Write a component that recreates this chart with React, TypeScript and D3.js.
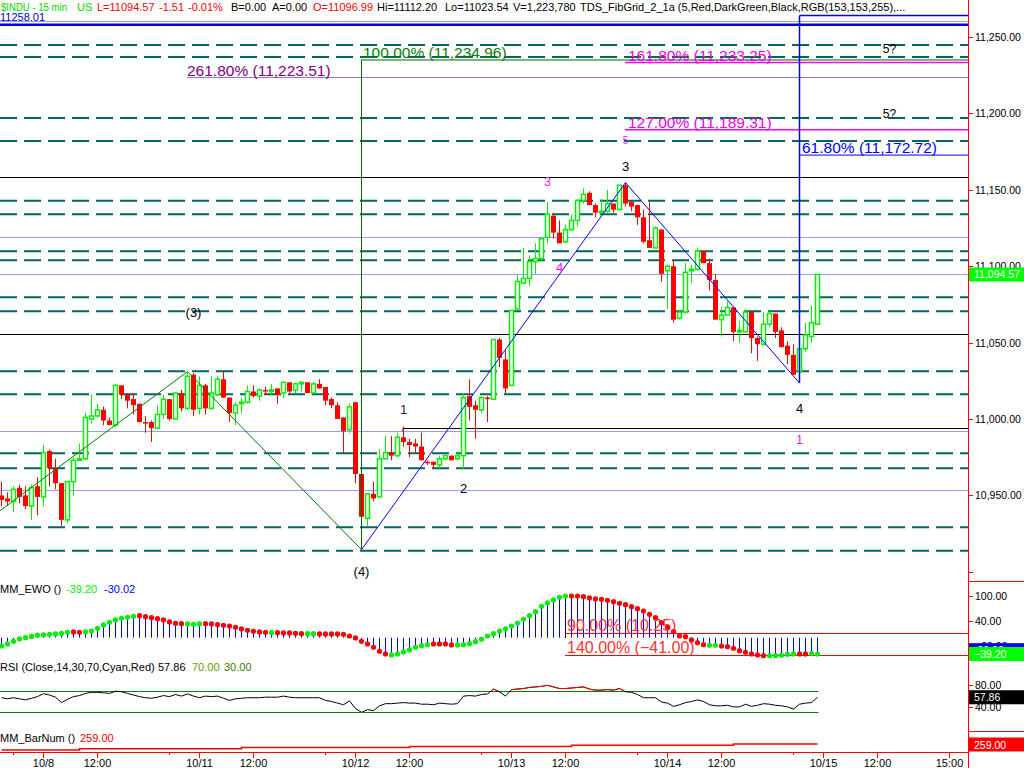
import React from 'react';
import * as d3 from 'd3';

// ---------- DATA ----------
const FIRST_BAR = -7; // bar index of first visible bar (10/8 09:45 = 0)

// [open, high, low, close] per 15-min bar
const ohlc: [number, number, number, number][] = [
  [10950, 10959, 10943, 10947], [10948, 10952, 10943, 10946], [10946, 10956, 10939, 10954],
  [10955, 10957, 10945, 10949], [10950, 10956, 10941, 10943], [10943, 10957, 10934, 10955],
  [10956, 10962, 10937, 10949],
  [10949, 10983, 10943, 10978], [10979, 10980, 10956, 10968], [10968, 10974, 10954, 10958],
  [10958, 10958, 10930, 10934], [10934, 10959, 10932, 10959], [10959, 10975, 10950, 10973],
  [10973, 10984, 10973, 10974], [10974, 11004, 10973, 11001], [11000, 11016, 10997, 11002],
  [11002, 11010, 11001, 11006], [11006, 11008, 10996, 10999], [10999, 11001, 10996, 10996],
  [10996, 11023, 10995, 11022], [11022, 11022, 11013, 11016], [11016, 11017, 11007, 11012],
  [11013, 11017, 11003, 11009], [11010, 11010, 10998, 10998], [10998, 11002, 10991, 10997],
  [10998, 10999, 10985, 10994], [10994, 11009, 10993, 11003], [11003, 11016, 11000, 11013],
  [11013, 11013, 10999, 11000], [11000, 11017, 11000, 11017], [11017, 11019, 11005, 11007],
  [11007, 11031, 11006, 11028], [11029, 11030, 11002, 11006],
  [11007, 11028, 11003, 11022], [11022, 11023, 11003, 11007], [11007, 11028, 11006, 11017],
  [11016, 11028, 11015, 11026], [11026, 11031, 11014, 11014], [11014, 11014, 10998, 11004],
  [11004, 11011, 10996, 11009], [11010, 11014, 11004, 11011], [11011, 11022, 11010, 11018],
  [11018, 11022, 11014, 11015], [11015, 11020, 11012, 11019], [11019, 11021, 11016, 11018],
  [11018, 11023, 11016, 11019], [11020, 11020, 11010, 11016], [11017, 11024, 11014, 11024],
  [11024, 11024, 11017, 11018], [11019, 11024, 11017, 11023], [11023, 11025, 11018, 11024],
  [11024, 11024, 11017, 11017], [11017, 11024, 11017, 11023], [11023, 11026, 11020, 11020],
  [11021, 11021, 11009, 11012], [11013, 11014, 11007, 11009], [11009, 11011, 11000, 11000],
  [11001, 11001, 10978, 10992], [10993, 11010, 10991, 11008],
  [11011, 11011, 10958, 10964], [10964, 10964, 10914.5, 10936], [10935, 10951, 10930, 10951],
  [10951, 10959, 10946, 10948], [10949, 10980, 10949, 10974], [10974, 10989, 10974, 10978],
  [10978, 10989, 10973, 10976], [10976, 10991, 10975, 10988], [10988, 10995, 10982, 10985],
  [10985, 10987, 10975, 10983], [10984, 10987, 10978, 10982], [10982, 10991, 10973, 10973],
  [10972, 10973, 10970, 10971], [10972, 10972, 10968, 10970], [10970, 10976, 10968, 10974],
  [10974, 10977, 10973, 10976], [10976, 10976, 10973, 10973], [10974, 10979, 10973, 10976],
  [10976, 11017, 10967, 11014], [11015, 11026, 10999, 11008], [11009, 11012, 10987, 11006],
  [11006, 11015, 11004, 11014], [11014, 11015, 10998, 11013], [11013, 11052, 11013, 11052],
  [11052, 11053, 11034, 11040], [11039, 11045, 11017, 11020],
  [11022, 11071, 11022, 11071], [11072, 11094, 11072, 11090], [11089, 11112, 11088, 11092],
  [11092, 11107, 11087, 11103], [11103, 11115, 11095, 11105], [11105, 11118, 11103, 11118],
  [11119, 11142, 11115, 11134], [11133, 11134, 11118, 11122], [11122, 11130, 11115, 11115],
  [11116, 11127, 11115, 11124], [11124, 11134, 11123, 11130], [11130, 11143, 11126, 11143],
  [11143, 11151, 11141, 11147], [11148, 11149, 11140, 11140], [11140, 11141, 11132, 11135],
  [11135, 11144, 11134, 11136], [11136, 11150, 11135, 11141], [11141, 11141, 11135, 11137],
  [11137, 11153, 11137, 11153], [11153, 11154.7, 11139, 11141], [11142, 11143, 11136, 11139],
  [11140, 11140, 11127, 11132], [11132, 11137, 11115, 11116], [11117, 11142, 11112, 11112],
  [11112, 11126, 11112, 11125], [11124, 11124, 11090, 11095],
  [11097, 11101, 11072, 11100], [11100, 11104, 11063, 11065], [11066, 11071, 11065, 11070],
  [11070, 11102, 11069, 11096], [11097, 11101, 11089, 11098], [11098, 11112.2, 11097, 11110],
  [11110, 11110, 11102, 11102], [11102, 11105, 11084, 11091], [11091, 11095, 11065, 11065],
  [11065, 11073, 11054, 11068], [11068, 11077, 11068, 11073], [11073, 11073, 11051, 11057],
  [11057, 11064, 11050, 11058], [11057, 11072, 11057, 11070], [11070, 11070, 11043, 11053],
  [11053, 11054, 11038, 11049], [11049, 11070, 11048, 11062], [11062, 11071, 11060, 11069],
  [11069, 11069, 11053, 11057], [11058, 11060, 11047, 11047], [11048, 11051, 11036, 11042],
  [11042, 11049, 11029, 11029], [11031, 11046, 11023.54, 11046], [11046, 11063, 11044, 11055],
  [11054, 11074, 11050, 11063], [11062, 11095, 11062, 11094.57],
];

const ewo: number[] = [
  -20, -15, -8.7, -3, 0, 3, 6,
  7, 8, 9, 10.5, 13, 13.7, 13, 13.7, 16, 22.5, 30.5, 37, 42.5, 46.5, 49, 51.3, 52.8, 50.4, 48, 45.6,
  42.5, 37.7, 34.5, 33.6, 32.9, 32,
  33, 33.6, 33, 31.3, 29.8, 28, 25, 21, 17.7, 15.4, 13.7, 13, 12, 12, 11.3, 11.3, 10.5, 9.6, 9.6,
  9.6, 9, 9, 9, 9, 8, 4,
  -0.7, -8.7, -15, -23, -32.6, -39, -41.5, -39, -34.3, -29.5, -23, -19.2, -16.8, -15, -15, -15,
  -17.5, -17.5, -16.8, -14.4, -9.6, -3.8, 4, 9.6, 16, 21,
  28, 35, 44, 52.8, 62.4, 75.4, 83.3, 90.5, 97, 100, 100, 100, 98.4, 95.3, 92.9, 92, 89.7, 86.4,
  82.5, 79.2, 74.4, 69.6, 64, 56, 48, 36,
  25, 14.4, 4, 2.4, -5.5, -12, -16.8, -18.2, -18.2, -20, -21.6, -25.4, -31.2, -35, -39, -41.5,
  -43.2, -43.2, -43.2, -42.2, -40, -39, -39, -39, -38, -39.2,
];

// EWO dot state runs: g = rising (green), r = falling (red)
const ewoRuns: [string, number][] = [
  ['g', 12], ['r', 2], ['g', 9], ['r', 8], ['g', 3], ['r', 11], ['g', 1], ['r', 5], ['g', 2],
  ['r', 12], ['g', 7], ['r', 4], ['g', 19], ['r', 23], ['g', 2], ['r', 8], ['g', 5], ['r', 2], ['g', 2],
];

const rsi: number[] = [
  57, 55, 57, 55, 53, 56, 59,
  64.5, 62, 58, 48, 54, 59, 61, 65, 67, 67, 66, 65, 69, 68, 65, 62, 59, 57, 56, 58, 61, 59, 63, 60,
  64, 60,
  57, 60, 59, 60, 56, 52, 55, 56, 57, 57, 57, 58, 58, 58, 60, 58, 57, 57, 57, 57, 57, 52, 50, 47,
  44, 51,
  37, 30, 35, 33, 42, 46, 46, 47, 48, 47, 47, 45, 45, 44, 47, 46, 45, 46, 60, 61, 60, 63, 64, 73,
  68, 60,
  72, 73, 74, 76, 77, 78, 80, 77, 74, 74, 75, 76, 77, 73, 71, 71, 72, 71, 74, 68, 67, 63, 57, 57,
  57, 49,
  47, 41, 44, 48, 50, 53, 50, 44, 42, 42, 43, 40, 40, 45, 41, 43, 46, 45, 43, 42, 40, 36, 45, 47,
  48, 57.86,
];

const barNumBreaks = [-7, 6, 33, 61, 88, 115];
const barNumValues = [254, 255, 256, 257, 258, 259];

const tickBars = [0, 9, 26, 35, 52, 61, 78, 87, 104, 113, 130, 139, 151];
const tickLabels = ['10/8', '12:00', '10/11', '12:00', '10/12', '12:00', '10/13', '12:00', '10/14', '12:00', '10/15', '12:00', '15:00'];
const minorTickBars = [-5, 21, 47, 73, 99, 125];

const priceTicks = [10950, 11000, 11050, 11100, 11150, 11200, 11250];

// Fib grid levels
const dashedLevels = [11244.8, 11236.9, 11197, 11182, 11142.9, 11134, 11109.8, 11103.9, 11079.7,
  11070.5, 11031.2, 11016.2, 10977.6, 10967.7, 10929.1, 10913.8];
const lightLevels = [11260.6, 11118.9, 11094.7, 10991.9, 10953.3];
const blackLevels = [11158.2, 11055.4];
const wave1High = { k: 60, p: 10994.3 };
const topLevel = 11258.01;

const fibNames = ['100.00%', '261.80%', '161.80%', '127.00%', '61.80%'];
const fibValues = [11234.96, 11223.51, 11233.25, 11189.31, 11172.72];
const fibStartBars = [53, 24, 97, 97, 126];

const ewoFibNames = ['90.00%', '140.00%'];
const ewoFibValues = [10.25, -41.0];
const ewoFibStart = 87;

const greenWave = [{ k: -10, p: 10932 }, { k: 24, p: 11031 }, { k: 53, p: 10914.5 }];
const blueWave = [{ k: 53, p: 10914.5 }, { k: 97, p: 11154.7 }, { k: 126, p: 11023.54 }];
const blueBoxTop = 11264.1;

const waveLabels = [
  { t: '(3)', k: 25, p: 11070, c: 'black', s: 13 },
  { t: '(4)', k: 53, p: 10900, c: 'black', s: 13 },
  { t: '1', k: 60, p: 11006.5, c: '#1c1c50', s: 13 },
  { t: '2', k: 70, p: 10954.8, c: 'black', s: 13 },
  { t: '3', k: 97, p: 11165.6, c: 'black', s: 13 },
  { t: '3', k: 84, p: 11155.1, c: '#e020e0', s: 12 },
  { t: '4', k: 86, p: 11099.5, c: '#e020e0', s: 13 },
  { t: '4', k: 126, p: 11007.2, c: 'black', s: 13 },
  { t: '1', k: 126, p: 10986.3, c: '#e020e0', s: 12 },
  { t: '5?', k: 141, p: 11242.2, c: 'black', s: 12 },
  { t: '5?', k: 141, p: 11199.6, c: 'black', s: 12 },
  { t: '5', k: 97, p: 11182.6, c: '#e020e0', s: 10 },
];

const header = [
  { t: '$INDU - 15 min', x: 1, c: '#00d800', w: 66 },
  { t: 'US', x: 77, c: '#00d800', w: 0 },
  { t: 'L=11094.57', x: 97, c: '#ff0000', w: 0 },
  { t: '-1.51', x: 159, c: '#ff0000', w: 0 },
  { t: '-0.01%', x: 188, c: '#ff0000', w: 0 },
  { t: 'B=0.00', x: 231, c: '#000', w: 0 },
  { t: 'A=0.00', x: 272, c: '#000', w: 0 },
  { t: 'O=11096.99', x: 313, c: '#ff0000', w: 0 },
  { t: 'Hi=11112.20', x: 377, c: '#000', w: 0 },
  { t: 'Lo=11023.54', x: 445, c: '#000', w: 0 },
  { t: 'V=1,223,780', x: 513, c: '#000', w: 0 },
  { t: 'TDS_FibGrid_2_1a (5,Red,DarkGreen,Black,RGB(153,153,255),...', x: 580, c: '#000', w: 0 },
];

// ---------- COMPONENT ----------
const FONT = 'Liberation Sans, Arial, sans-serif';
const GREEN = '#00ee00';
const RED = '#ff0000';
const TEAL = '#00665e';

export default function App() {
  const AX = 968;
  const x = d3.scaleLinear().domain([0, 130]).range([43, 823]);
  const y = d3.scaleLinear().domain([11000, 11250]).range([419, 37]);
  const yE = d3.scaleLinear().domain([40, 100]).range([621, 596]);
  const yR = d3.scaleLinear().domain([30, 70]).range([712.3, 690.7]);
  const yB = d3.scaleLinear().domain([254, 259]).range([750, 744]);
  const fmt = d3.format(',.2f');
  const cx = (k: number) => x(k) + 0.5;

  const bars = ohlc.map((d, i) => ({ k: FIRST_BAR + i, o: d[0], h: d[1], l: d[2], c: d[3] }));
  const trend: string[] = [];
  ewoRuns.forEach(([s, n]) => { for (let i = 0; i < n; i++) trend.push(s); });

  const waveLine = d3.line<{ k: number; p: number }>().x(d => cx(d.k)).y(d => y(d.p));
  const rsiLine = d3.line<number>().x((_, i) => cx(FIRST_BAR + i)).y(v => yR(v));
  const barPts = barNumBreaks.map((k, i) => ({ k, v: barNumValues[i] }));
  barPts.push({ k: FIRST_BAR + ohlc.length - 1, v: barNumValues[barNumValues.length - 1] });
  const barLine = d3.line<{ k: number; v: number }>().x(d => cx(d.k)).y(d => yB(d.v)).curve(d3.curveStepAfter);
  const lastBarX = cx(FIRST_BAR + ohlc.length - 1) + 1;

  const axisLabel = (v: string, yy: number, key: string) => (
    <g key={key}>
      <line x1={AX} x2={AX + 5} y1={Math.round(yy) + 0.5} y2={Math.round(yy) + 0.5} stroke={RED} />
      <text x={975} y={yy + 4} fontSize={10.5} fill="#000">{v}</text>
    </g>
  );
  const boxLabel = (v: string, yy: number, fill: string, key: string) => (
    <g key={key}>
      <rect x={AX + 1} y={yy - 7} width={1024 - AX - 1} height={14} fill={fill} />
      <text x={974} y={yy + 4} fontSize={10.5} fill="#fff">{v}</text>
    </g>
  );

  return (
    <svg width={1024} height={768} style={{ position: 'absolute', left: 0, top: 0, background: '#fff' }}
      fontFamily={FONT}>
      <defs>
        <clipPath id="pane"><rect x={0} y={0} width={AX} height={580} /></clipPath>
        <clipPath id="rsiHi"><rect x={0} y={0} width={AX} height={yR(70)} /></clipPath>
        <clipPath id="rsiLo"><rect x={0} y={yR(30)} width={AX} height={100} /></clipPath>
      </defs>
      <rect x={0} y={0} width={1024} height={768} fill="#fff" />

      {/* ---------- price pane ---------- */}
      <g clipPath="url(#pane)">
        {dashedLevels.map((p, i) => (
          <line key={'d' + i} x1={0} x2={AX} y1={y(p)} y2={y(p)} stroke={TEAL} strokeWidth={2} strokeDasharray="17 7" />
        ))}
        {lightLevels.map((p, i) => (
          <line key={'l' + i} x1={0} x2={AX} y1={Math.round(y(p)) + 0.5} y2={Math.round(y(p)) + 0.5} stroke="#9999ff" strokeWidth={1} />
        ))}
        {blackLevels.map((p, i) => (
          <line key={'b' + i} x1={0} x2={AX} y1={Math.round(y(p)) + 0.5} y2={Math.round(y(p)) + 0.5} stroke="#000" strokeWidth={1.2} />
        ))}
        <line x1={x(wave1High.k)} x2={AX} y1={Math.round(y(wave1High.p)) + 0.5} y2={Math.round(y(wave1High.p)) + 0.5} stroke="#000" strokeWidth={1.2} />
        <line x1={x(wave1High.k)} x2={x(wave1High.k)} y1={y(wave1High.p)} y2={y(wave1High.p) + 4} stroke="#000" />
        <line x1={0} x2={AX} y1={y(topLevel)} y2={y(topLevel)} stroke="#0000e6" strokeWidth={2.5} />

        {/* fib lines */}
        <line x1={x(fibStartBars[0])} x2={AX} y1={y(fibValues[0])} y2={y(fibValues[0])} stroke="#006400" strokeWidth={1} />
        <line x1={x(fibStartBars[1])} x2={AX} y1={y(fibValues[1])} y2={y(fibValues[1])} stroke="#9370db" strokeWidth={1} />
        <line x1={x(fibStartBars[2])} x2={AX} y1={y(fibValues[2])} y2={y(fibValues[2])} stroke="#ff00ff" strokeWidth={1.5} />
        <line x1={x(fibStartBars[3])} x2={AX} y1={y(fibValues[3])} y2={y(fibValues[3])} stroke="#ff00ff" strokeWidth={1.5} />
        <line x1={x(fibStartBars[4])} x2={AX} y1={y(fibValues[4])} y2={y(fibValues[4])} stroke="#0000ff" strokeWidth={1} />
        <line x1={cx(126)} x2={AX} y1={y(blueBoxTop)} y2={y(blueBoxTop)} stroke="#0000ff" strokeWidth={1.5} />

        {/* candles */}
        {bars.map(b => {
          const c = x(b.k);
          const up = b.c >= b.o;
          const col = up ? GREEN : RED;
          const top = y(Math.max(b.o, b.c));
          const h = Math.max(1.2, y(Math.min(b.o, b.c)) - top);
          return (
            <g key={'c' + b.k}>
              <line x1={c + 0.5} x2={c + 0.5} y1={y(b.h)} y2={y(b.l)} stroke={col} strokeWidth={1} />
              {up
                ? <rect x={c - 1.5} y={top} width={4} height={h} fill="#fff" stroke={col} strokeWidth={1.5} />
                : <rect x={c - 2} y={top} width={5} height={h} fill={col} />}
            </g>
          );
        })}

        {/* wave lines */}
        <path d={waveLine(greenWave) || ''} fill="none" stroke="#008000" strokeWidth={1} />
        <path d={waveLine(blueWave) || ''} fill="none" stroke="#0000ff" strokeWidth={1} />
        <line x1={cx(53)} x2={cx(53)} y1={y(fibValues[0])} y2={y(10914.5)} stroke="#006400" strokeWidth={1} />
        <line x1={cx(126)} x2={cx(126)} y1={y(blueBoxTop)} y2={y(11023.54)} stroke="#0000ff" strokeWidth={1.5} />

        {/* fib texts */}
        <text x={x(fibStartBars[0]) + 2} y={y(fibValues[0]) - 2} fontSize={15.5} fill="#0a7d0a">{`${fibNames[0]} (${fmt(fibValues[0])})`}</text>
        <text x={x(fibStartBars[1])} y={y(fibValues[1]) - 1} fontSize={15.5} fill="#800080">{`${fibNames[1]} (${fmt(fibValues[1])})`}</text>
        <text x={x(fibStartBars[2]) + 3} y={y(fibValues[2]) - 2} fontSize={15.5} fill="#e600e6">{`${fibNames[2]} (${fmt(fibValues[2])})`}</text>
        <text x={x(fibStartBars[3]) + 3} y={y(fibValues[3]) - 2} fontSize={15.5} fill="#e600e6">{`${fibNames[3]} (${fmt(fibValues[3])})`}</text>
        <text x={x(fibStartBars[4]) + 3} y={y(fibValues[4]) - 2} fontSize={15.5} fill="#0000ff">{`${fibNames[4]} (${fmt(fibValues[4])})`}</text>

        {waveLabels.map((l, i) => (
          <text key={'w' + i} x={cx(l.k)} y={y(l.p) + l.s * 0.36} fontSize={l.s} fill={l.c} textAnchor="middle">{l.t}</text>
        ))}
      </g>
      <text x={0} y={21} fontSize={11} fill="#0000cc">{fmt(topLevel).replace(',', '')}</text>

      {/* header */}
      {header.map((h, i) => (
        h.w > 0
          ? <text key={'h' + i} x={h.x} y={11} fontSize={11} fill={h.c} textLength={h.w} lengthAdjust="spacingAndGlyphs">{h.t}</text>
          : <text key={'h' + i} x={h.x} y={11} fontSize={11} fill={h.c}>{h.t}</text>
      ))}

      {/* ---------- EWO pane ---------- */}
      <text x={0} y={593} fontSize={11} fill="#000">MM_EWO ()</text>
      <text x={66} y={593} fontSize={11} fill={GREEN}>-39.20</text>
      <text x={104} y={593} fontSize={11} fill="#0000ff">-30.02</text>
      {ewo.map((v, i) => (
        <line key={'eh' + i} x1={cx(FIRST_BAR + i)} x2={cx(FIRST_BAR + i)} y1={yE(0)} y2={yE(v)} stroke="#0000ff" strokeWidth={1} />
      ))}
      <line x1={x(ewoFibStart) + 0.5} x2={x(ewoFibStart) + 0.5} y1={yE(100)} y2={yE(0)} stroke="#000" strokeDasharray="2 2" />
      {ewoFibValues.map((v, i) => (
        <g key={'ef' + i}>
          <line x1={x(ewoFibStart)} x2={AX} y1={Math.round(yE(v)) + 0.5} y2={Math.round(yE(v)) + 0.5} stroke={RED} strokeWidth={1} />
          <text x={x(ewoFibStart) + 2} y={yE(v) - 2} fontSize={16} fill="#ff3030">{`${ewoFibNames[i]} (${d3.format('.2f')(v)})`}</text>
        </g>
      ))}
      {ewo.map((v, i) => (
        <circle key={'ed' + i} cx={cx(FIRST_BAR + i)} cy={yE(v)} r={2.6} fill={trend[i] === 'g' ? GREEN : RED} />
      ))}

      {/* ---------- RSI pane ---------- */}
      <text x={0} y={671} fontSize={11} fill="#000">RSI (Close,14,30,70,Cyan,Red)</text>
      <text x={158} y={671} fontSize={11} fill="#000">57.86</text>
      <text x={192} y={671} fontSize={11} fill="#5f9e00">70.00</text>
      <text x={224} y={671} fontSize={11} fill="#3c7a00">30.00</text>
      <line x1={0} x2={lastBarX} y1={Math.round(yR(70)) + 0.5} y2={Math.round(yR(70)) + 0.5} stroke="#008000" />
      <line x1={0} x2={lastBarX} y1={Math.round(yR(30)) + 0.5} y2={Math.round(yR(30)) + 0.5} stroke="#008000" />
      <path d={rsiLine(rsi) || ''} fill="none" stroke="#000" strokeWidth={1} />
      <path d={rsiLine(rsi) || ''} fill="none" stroke={RED} strokeWidth={1} clipPath="url(#rsiHi)" />
      <path d={rsiLine(rsi) || ''} fill="none" stroke="#00ffff" strokeWidth={1} clipPath="url(#rsiLo)" />

      {/* ---------- BarNum pane ---------- */}
      <text x={0} y={742} fontSize={11} fill="#000">MM_BarNum ()</text>
      <text x={80} y={742} fontSize={11} fill={RED}>259.00</text>
      <path d={barLine(barPts) || ''} fill="none" stroke={RED} strokeWidth={1.5} />

      {/* ---------- time axis ---------- */}
      <line x1={0} x2={AX} y1={752.5} y2={752.5} stroke={RED} />
      {tickBars.map((k, i) => (
        <g key={'t' + i}>
          <line x1={cx(k)} x2={cx(k)} y1={752} y2={758} stroke={RED} />
          <text x={cx(k)} y={767} fontSize={11} textAnchor="middle" fill="#000">{tickLabels[i]}</text>
        </g>
      ))}
      {minorTickBars.map(k => (
        <line key={'m' + k} x1={cx(k)} x2={cx(k)} y1={752} y2={755} stroke={RED} />
      ))}

      {/* ---------- right axis ---------- */}
      <line x1={AX + 0.5} x2={AX + 0.5} y1={0} y2={768} stroke={RED} />
      {priceTicks.map(p => axisLabel(fmt(p), y(p), 'p' + p))}
      <line x1={AX} x2={AX + 5} y1={Math.round(y(10900)) + 0.5} y2={Math.round(y(10900)) + 0.5} stroke={RED} />
      {boxLabel(fmt(ohlc[ohlc.length - 1][3]), y(ohlc[ohlc.length - 1][3]), '#00ff00', 'last')}
      <line x1={AX} x2={1024} y1={581.5} y2={581.5} stroke={RED} />
      {[100, 40, -20].map(v => axisLabel(d3.format('.2f')(v), yE(v), 'e' + v))}
      {boxLabel('-30.02', yE(-30.02), '#0000ff', 'ewoB')}
      {boxLabel(d3.format('.2f')(ewo[ewo.length - 1]), yE(ewo[ewo.length - 1]), '#00ff00', 'ewoG')}
      {[80, 40].map(v => axisLabel(d3.format('.2f')(v), yR(v), 'r' + v))}
      {boxLabel(d3.format('.2f')(rsi[rsi.length - 1]), yR(rsi[rsi.length - 1]), '#000', 'rsiL')}
      <line x1={AX} x2={1024} y1={731.5} y2={731.5} stroke={RED} />
      {boxLabel(d3.format('.2f')(barNumValues[barNumValues.length - 1]), yB(barNumValues[barNumValues.length - 1]) + 0.5, RED, 'bn')}
    </svg>
  );
}
